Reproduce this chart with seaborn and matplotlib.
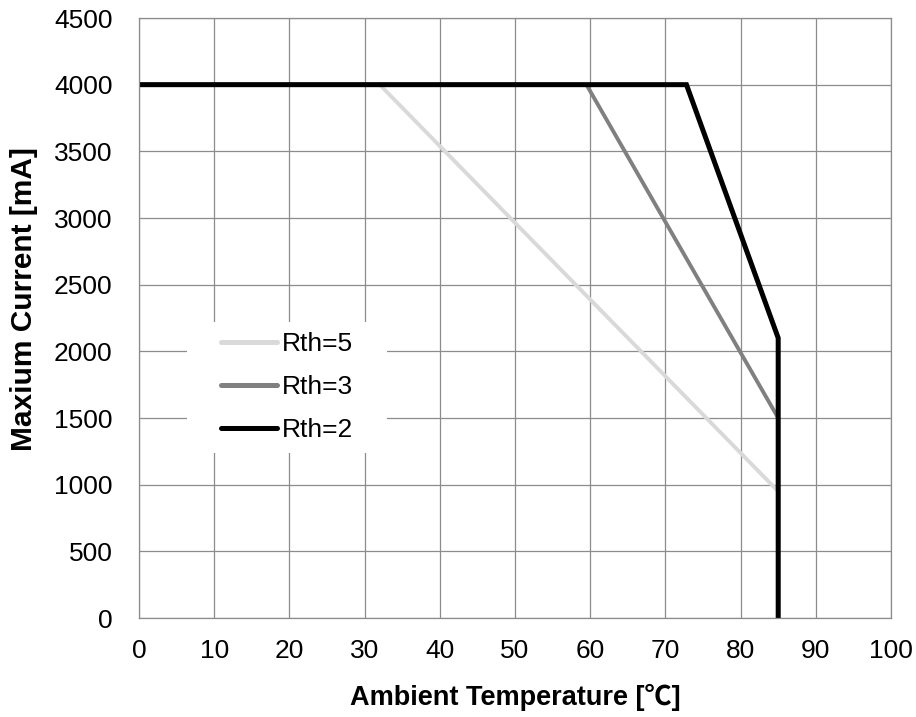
import matplotlib
matplotlib.use("Agg")
from matplotlib import pyplot as plt
from matplotlib.patches import Rectangle
import seaborn as sns
import pandas as pd

# derating curves
temp_rth5 = [0, 32, 85, 85]
curr_rth5 = [4000, 4000, 950, 0]
temp_rth3 = [0, 59.5, 85, 85]
curr_rth3 = [4000, 4000, 1500, 0]
temp_rth2 = [0, 72.8, 85, 85]
curr_rth2 = [4000, 4000, 2100, 0]

series_names = ["Rth=5", "Rth=3", "Rth=2"]
series_colors = ["#d9d9d9", "#808080", "#000000"]

x_ticks = list(range(0, 101, 10))
y_ticks = list(range(0, 4501, 500))

sns.set_style("white")
plt.rcParams["font.family"] = ["Liberation Sans", "DejaVu Sans", "Noto Sans CJK SC"]
plt.rcParams["text.color"] = "black"
plt.rcParams["axes.labelcolor"] = "black"

frames = []
for name, t, c in zip(series_names,
                      [temp_rth5, temp_rth3, temp_rth2],
                      [curr_rth5, curr_rth3, curr_rth2]):
    frames.append(pd.DataFrame({"temp": t, "current": c, "series": name}))
df = pd.concat(frames, ignore_index=True)

fig, ax = plt.subplots(figsize=(9.16, 7.17), dpi=100)
fig.subplots_adjust(left=139/916, right=891/916, top=1-18/717, bottom=1-618/717)

sns.lineplot(data=df, x="temp", y="current", hue="series", hue_order=series_names,
             palette=dict(zip(series_names, series_colors)), sort=False,
             estimator=None, units="series", ax=ax, linewidth=2.8,
             solid_joinstyle="miter")
# black line a bit heavier
for line in ax.get_lines():
    if line.get_color() in ("#000000", "k"):
        line.set_linewidth(3.6)

ax.set_xlim(0, 100)
ax.set_ylim(0, 4500)
ax.set_xticks(x_ticks)
ax.set_yticks(y_ticks)
ax.grid(True, color="#8c8c8c", linewidth=0.9)
ax.set_axisbelow(True)
for s in ax.spines.values():
    s.set_color("#8c8c8c")
    s.set_linewidth(0.9)
ax.tick_params(length=0, labelsize=19, colors="black")
ax.tick_params(axis="y", pad=19)
ax.tick_params(axis="x", pad=15)

ax.set_xlabel("Ambient Temperature [℃]", fontsize=19.5, fontweight="bold",
              color="black",
              family=["Liberation Sans", "Noto Sans CJK SC", "DejaVu Sans"])
ax.set_ylabel("Maxium Current [mA]", fontsize=21.5, fontweight="bold", color="black")
ax.xaxis.set_label_coords(0.5, -0.132)
ax.yaxis.set_label_coords(-0.153, 0.532)
ax.xaxis.label.set_va("center")
ax.yaxis.label.set_va("center")

# white patch behind the legend, covering the grid
ax.add_patch(Rectangle((0.064, 0.275), 0.266, 0.218, transform=ax.transAxes,
                       facecolor="white", edgecolor="none", zorder=1.5))

leg = ax.legend(loc="upper left", bbox_to_anchor=(0.109, 0.476),
                frameon=False, fontsize=19,
                handlelength=2.12, handletextpad=0.18, labelspacing=0.72,
                borderpad=0, borderaxespad=0)
for h in leg.get_lines():
    h.set_linewidth(3.6)
    h.set_solid_capstyle("round")
for t in leg.get_texts():
    t.set_color("black")

fig.savefig("out.png", dpi=100)
